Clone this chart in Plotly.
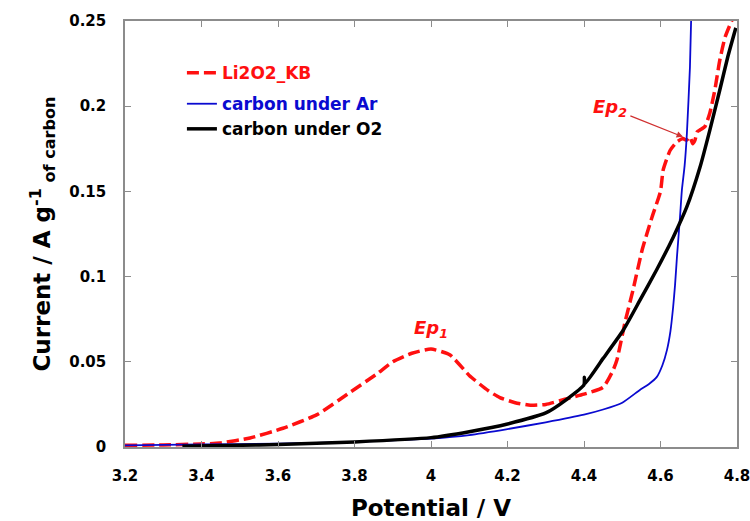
import plotly.graph_objects as go

# Anodic scan, current in A per g of carbon vs potential in V
v_li2o2 = [3.20, 3.30, 3.40, 3.448, 3.527, 3.613, 3.702, 3.788, 3.859, 3.90, 3.95, 4.00,
           4.05, 4.10, 4.15, 4.18, 4.22, 4.26, 4.30, 4.35, 4.40, 4.45, 4.476, 4.486,
           4.507, 4.528, 4.552, 4.578, 4.60, 4.607, 4.625, 4.643, 4.659, 4.668, 4.677,
           4.684, 4.690, 4.696, 4.703, 4.716, 4.729, 4.742, 4.755, 4.769, 4.787]
i_li2o2 = [0.001, 0.0012, 0.0018, 0.0023, 0.0053, 0.011, 0.019, 0.032, 0.043, 0.050, 0.055, 0.0575,
           0.054, 0.042, 0.033, 0.029, 0.026, 0.0245, 0.025, 0.028, 0.031, 0.035, 0.045, 0.051,
           0.073, 0.092, 0.1156, 0.135, 0.150, 0.1626, 0.174, 0.179, 0.181, 0.180, 0.182,
           0.178, 0.180, 0.185, 0.186, 0.188, 0.196, 0.2095, 0.227, 0.2406, 0.2506]

v_ar = [3.20, 3.40, 3.60, 3.80, 4.00, 4.10, 4.20, 4.30, 4.40, 4.45, 4.50, 4.546, 4.57,
        4.59, 4.605, 4.617, 4.626, 4.633, 4.638, 4.643, 4.651, 4.656, 4.663, 4.669,
        4.677, 4.680]
i_ar = [0.001, 0.0015, 0.002, 0.003, 0.005, 0.007, 0.0105, 0.0145, 0.019, 0.022, 0.026,
        0.0335, 0.037, 0.041, 0.048, 0.057, 0.068, 0.082, 0.095, 0.1115, 0.135, 0.151,
        0.165, 0.184, 0.223, 0.25]

v_o2 = [3.35, 3.50, 3.60, 3.80, 4.00, 4.10, 4.20, 4.30, 4.355, 4.40, 4.401, 4.402,
        4.45, 4.503, 4.546, 4.59, 4.633, 4.669, 4.703, 4.729, 4.755, 4.776, 4.797]
i_o2 = [0.0005, 0.001, 0.0015, 0.003, 0.0055, 0.009, 0.0135, 0.020, 0.028, 0.0365, 0.041, 0.037,
        0.052, 0.0687, 0.086, 0.104, 0.123, 0.141, 0.164, 0.186, 0.2095, 0.229, 0.246]

x_ticks = [3.2, 3.4, 3.6, 3.8, 4.0, 4.2, 4.4, 4.6, 4.8]
x_labels = ["3.2", "3.4", "3.6", "3.8", "4", "4.2", "4.4", "4.6", "4.8"]
y_ticks = [0, 0.05, 0.1, 0.15, 0.2, 0.25]
y_labels = ["0", "0.05", "0.1", "0.15", "0.2", "0.25"]

FONT = "DejaVu Sans"
RED = "#ff1010"
BLUE = "#0a0ad0"
AXIS = "#8c8c8c"

fig = go.Figure()
fig.add_trace(go.Scatter(
    x=v_li2o2, y=i_li2o2, mode="lines", legendgroup="a",
    name=f"<span style='color:{RED}'>Li2O2_KB</span>",
    line=dict(color=RED, width=3.5, dash="12px,5px", shape="spline", smoothing=0.5),
))
fig.add_trace(go.Scatter(
    x=v_ar, y=i_ar, mode="lines", legendgroup="b",
    name=f"<span style='color:{BLUE}'>carbon under Ar</span>",
    line=dict(color=BLUE, width=1.8, shape="spline", smoothing=0.5),
))
fig.add_trace(go.Scatter(
    x=v_o2, y=i_o2, mode="lines", legendgroup="b",
    name="carbon under O2",
    line=dict(color="black", width=3.5, shape="spline", smoothing=0.5),
))

# Peak labels
fig.add_annotation(x=4.0, y=0.069, text="<b><i>Ep<sub>1</sub></i></b>", showarrow=False,
                   font=dict(family=FONT, size=18, color=RED))
fig.add_annotation(x=4.659, y=0.182, ax=4.468, ay=0.199, axref="x", ayref="y",
                   text="<b><i>Ep<sub>2</sub></i></b>", showarrow=True,
                   arrowhead=2, arrowsize=1, arrowwidth=1.3, arrowcolor="#d03030",
                   startstandoff=2,
                   font=dict(family=FONT, size=18, color=RED))

axis_common = dict(
    showline=True, linecolor=AXIS, linewidth=1.5, mirror="ticks",
    ticks="inside", ticklen=6, tickcolor=AXIS, tickwidth=1.2,
    showgrid=False, zeroline=False, automargin=False,
    ticklabeloverflow="allow",
    tickfont=dict(family=FONT, size=15, color="black", weight="bold"),
)

fig.update_xaxes(
    range=[3.2, 4.8], tickvals=x_ticks, ticktext=x_labels, ticklabelstandoff=14,
    title=dict(text="<b>Potential / V</b>", font=dict(family=FONT, size=23, color="black"),
               standoff=16),
    **axis_common,
)
fig.update_yaxes(
    range=[0, 0.25], tickvals=y_ticks, ticktext=y_labels, ticklabelstandoff=14,
    title=dict(text="<b>Current / A g<sup>-1</sup><sub> of carbon</sub></b>",
               font=dict(family=FONT, size=23, color="black"), standoff=12),
    **axis_common,
)

fig.update_layout(
    width=750, height=521,
    margin=dict(l=125, r=13, t=21, b=74, autoexpand=False),
    paper_bgcolor="white", plot_bgcolor="white",
    showlegend=True,
    legend=dict(
        x=0.093, y=0.92, xanchor="left", yanchor="top",
        bgcolor="rgba(0,0,0,0)", traceorder="grouped", tracegroupgap=6,
        font=dict(family=FONT, size=17, color="black", weight="bold"),
        itemwidth=30,
    ),
)

fig.write_html("out.html")
